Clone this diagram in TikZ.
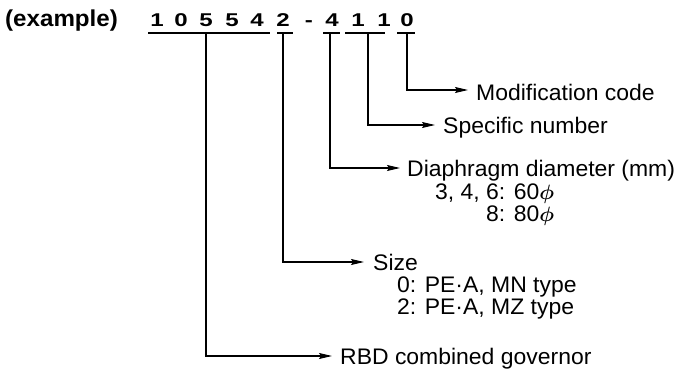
\documentclass[tikz,border=0pt]{standalone}
\usepackage{fontspec}
\setmainfont{Liberation Sans}[FakeStretch=1.02]
\newfontfamily\digfont{Liberation Sans}[FakeStretch=1.3]
\newfontfamily\exfont{Liberation Sans}[FakeStretch=1.05]
\usetikzlibrary{arrows.meta}
\newcommand{\myphi}{\mbox{\boldmath$\phi$}}
\begin{document}
\begin{tikzpicture}[x=1pt,y=-1pt,
  lbl/.style={anchor=base west,inner sep=0pt,font=\fontsize{22.5}{24}\selectfont},
  dig/.style={anchor=base,inner sep=0pt,font=\digfont\fontsize{18.5}{20}\selectfont\bfseries},
  uline/.style={line width=1.6pt},
  conn/.style={line width=1.2pt},
  arr/.style={conn,-{Stealth[length=13pt,width=6pt,inset=2pt]}}]
\useasboundingbox (0,0) rectangle (678,372);
% header
\node[anchor=base west,inner sep=0pt,font=\exfont\fontsize{23}{24}\selectfont\bfseries] (ex) at (5,27) {(example)};
\foreach \n/\x/\t in {1/157/1,2/181/0,3/206/5,4/232/5,5/257/4,6/283/2,7/309/-,8/332/4,9/358/1,10/384/1,11/407/0}
  \node[dig] (d\n) at (\x,26) {\t};
% underlines
\coordinate (u1a) at (148,33); \coordinate (u1b) at (270,33);
\coordinate (u2a) at (277,33); \coordinate (u2b) at (293,33);
\coordinate (u3a) at (323,33); \coordinate (u3b) at (340,33);
\coordinate (u4a) at (345,33); \coordinate (u4b) at (385,33);
\coordinate (u5a) at (397,33); \coordinate (u5b) at (415,33);
\foreach \i in {1,...,5} \draw[uline] (u\i a) -- (u\i b);
% vertical starts
\coordinate (v1) at (206,33);
\coordinate (v2) at (283,33);
\coordinate (v3) at (330,33);
\coordinate (v4) at (368,33);
\coordinate (v5) at (407,33);
% arrow tips
\coordinate (t5) at (468,90);
\coordinate (t4) at (435,125);
\coordinate (t3) at (400,168);
\coordinate (t2) at (364,262);
\coordinate (t1) at (332,356);
\draw[arr] (v5) |- (t5);
\draw[arr] (v4) |- (t4);
\draw[arr] (v3) |- (t3);
\draw[arr] (v2) |- (t2);
\draw[arr] (v1) |- (t1);
% labels
\node[lbl] (lmod) at (476,100) {Modification code};
\node[lbl] (lspec) at (443,133) {Specific number};
\node[lbl] (ldia) at (407,176) {Diaphragm diameter (mm)};
\node[lbl] (ldia2) at (435,199) {3, 4, 6: 60\myphi};
\node[lbl,anchor=base east] (ldia3) at (ldia2.base east |- 0,221) {8: 80\myphi};
\node[lbl] (lsize) at (373,270) {Size};
\node[lbl] (lsize2) at (397,292) {0: PE·A, MN type};
\node[lbl] (lsize3) at (397,314) {2: PE·A, MZ type};
\node[lbl] (lrbd) at (340,364) {RBD combined governor};
\end{tikzpicture}
\end{document}
